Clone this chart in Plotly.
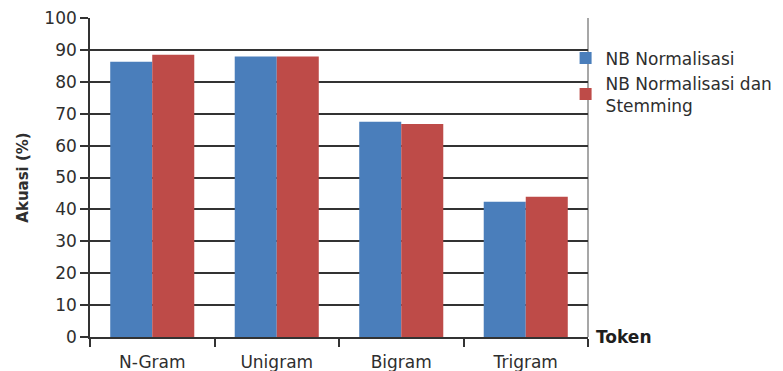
import plotly.graph_objects as go

categories = ["N-Gram", "Unigram", "Bigram", "Trigram"]
nb_normalisasi = [86.3, 87.9, 67.5, 42.4]
nb_norm_stemming = [88.5, 87.9, 66.8, 44.0]
series_names = ["NB Normalisasi", "NB Normalisasi dan<br>Stemming"]
y_ticks = [0, 10, 20, 30, 40, 50, 60, 70, 80, 90, 100]

FONT = "DejaVu Sans"
TXT = "#2e2e2e"
LINE = "#333333"

fig = go.Figure()
fig.add_trace(go.Bar(x=categories, y=nb_normalisasi, name=series_names[0],
                     marker=dict(color="#4A7EBB", line=dict(width=0))))
fig.add_trace(go.Bar(x=categories, y=nb_norm_stemming, name=series_names[1],
                     marker=dict(color="#BE4B48", line=dict(width=0))))

fig.update_layout(
    width=783, height=371,
    margin=dict(l=90, r=195, t=18, b=34, autoexpand=False),
    paper_bgcolor="white", plot_bgcolor="white",
    barmode="group", bargap=0.325, bargroupgap=0,
    font=dict(family=FONT, size=17, color=TXT),
    legend=dict(x=0.955, xanchor="left", y=0.93, yanchor="top",
                font=dict(family=FONT, size=17, color=TXT),
                bgcolor="rgba(0,0,0,0)", borderwidth=0, valign="middle"),
    xaxis=dict(
        type="category", showgrid=False, automargin=False,
        showline=True, linecolor=LINE, linewidth=1.6,
        ticks="outside", tickson="boundaries", ticklen=8, tickwidth=1.5,
        tickcolor=LINE, ticklabelstandoff=9,
        tickfont=dict(family=FONT, size=17, color=TXT),
    ),
    yaxis=dict(
        range=[0, 100], tickvals=y_ticks, automargin=False,
        showgrid=True, gridcolor=LINE, gridwidth=1.6,
        zeroline=False,
        showline=True, linecolor=LINE, linewidth=1.6,
        ticks="outside", ticklen=8, tickwidth=1.5, tickcolor=LINE,
        tickfont=dict(family=FONT, size=17, color=TXT),
        title=dict(text="<b>Akuasi (%)</b>", standoff=12,
                   font=dict(family=FONT, size=15, color=TXT)),
    ),
    shapes=[dict(type="line", xref="paper", yref="paper", x0=1, x1=1, y0=0, y1=1,
                 line=dict(color="#8a8a8a", width=1.5), layer="below")],
    annotations=[dict(text="<b>Token</b>", xref="paper", yref="y", x=1, y=0,
                      xanchor="left", yanchor="middle", xshift=6, showarrow=False,
                      font=dict(family=FONT, size=17, color="#1e1e1e"))],
)

fig.write_html("out.html")
